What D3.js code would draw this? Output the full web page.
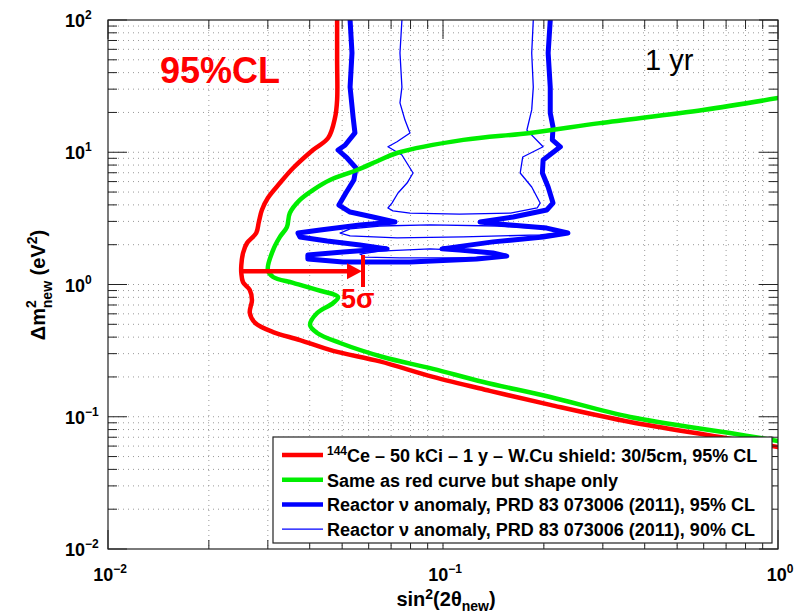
<!DOCTYPE html>
<html>
<head>
<meta charset="utf-8">
<script src="https://cdn.jsdelivr.net/npm/d3@7"></script>
<style>
  body { margin: 0; background: #fff; }
  svg { display: block; font-family: "Liberation Sans", Arial, Helvetica, sans-serif; }
  .grid line { stroke: #999; stroke-width: 1; stroke-dasharray: 1,4; }
  .tick { stroke: #222; stroke-width: 1; }
</style>
</head>
<body>
<svg id="chart" width="812" height="613"></svg>
<script>

// [sin^2(2theta), dm^2 (eV^2)]
var ceCurve = [[0.0483,100],[0.0483,49.8],[0.0483,24.9],[0.0476,18.2],[0.0454,12.8],[0.0409,10.4],[0.0357,7.60],
  [0.0326,5.85],[0.0300,4.51],[0.0288,3.66],[0.0282,2.97],[0.0277,2.45],[0.0260,2.06],[0.0253,1.73],[0.0250,1.40],
  [0.0250,1.22],[0.0253,1.04],[0.0265,0.909],[0.0269,0.763],[0.0265,0.609],[0.0275,0.512],[0.0311,0.437],
  [0.0374,0.380],[0.0470,0.315],[0.0648,0.262],[0.0934,0.200],[0.138,0.157],[0.209,0.123],[0.362,0.0913],
  [0.671,0.0703],[1.0,0.0590]];

var shapeCurve = [[1.0,25.7],[0.597,20.9],[0.294,16.6],[0.182,14.0],[0.115,12.4],[0.0729,9.87],[0.0648,8.74],
  [0.0554,7.34],[0.0460,6.17],[0.0409,5.18],[0.0374,4.36],[0.0349,3.47],[0.0342,2.72],[0.0326,2.29],[0.0311,1.82],
  [0.0300,1.29],[0.0311,1.14],[0.0357,1.03],[0.0421,0.909],[0.0486,0.804],[0.0470,0.725],[0.0421,0.609],
  [0.0401,0.494],[0.0421,0.430],[0.0493,0.361],[0.0662,0.283],[0.0934,0.230],[0.132,0.183],[0.209,0.141],
  [0.362,0.0996],[0.719,0.0753],[1.0,0.0656]];

var reactor95 = [[0.0528,100],[0.0535,56.3],[0.0528,31.1],[0.0539,18.5],[0.0546,14.0],[0.0510,11.3],[0.0486,10.4],
  [0.0517,9.05],[0.0550,7.60],[0.0542,6.17],[0.0513,4.92],[0.0489,3.99],[0.0528,3.53],[0.0618,3.24],[0.0719,2.97],
  [0.0565,2.82],[0.0430,2.58],[0.0369,2.45],[0.0374,2.29],[0.0451,2.13],[0.0565,1.99],[0.0681,1.86],[0.0503,1.76],
  [0.0395,1.67],[0.0395,1.56],[0.0503,1.48],[0.0797,1.48],[0.126,1.56],[0.155,1.64],[0.141,1.73],[0.112,1.82],
  [0.0993,1.86],[0.141,2.10],[0.199,2.29],[0.236,2.45],[0.204,2.67],[0.159,2.82],[0.129,2.97],[0.162,3.24],
  [0.204,3.66],[0.213,4.13],[0.206,5.46],[0.198,6.97],[0.199,8.74],[0.224,11.0],[0.212,12.4],[0.213,15.5],
  [0.209,19.8],[0.209,31.1],[0.206,56.3],[0.209,100]];

var reactor90 = [[0.0754,100],[0.0744,56.3],[0.0754,31.1],[0.0744,23.6],[0.0770,17.5],[0.0797,14.0],[0.0729,12.0],
  [0.0685,11.0],[0.0754,9.53],[0.0814,6.97],[0.0781,5.85],[0.0734,4.92],[0.0704,4.13],[0.0685,3.79],[0.0709,3.60],
  [0.0797,3.47],[0.112,3.41],[0.159,3.47],[0.191,3.79],[0.195,4.13],[0.184,5.46],[0.170,6.97],[0.173,9.21],
  [0.199,11.0],[0.178,14.7],[0.184,20.9],[0.186,31.1],[0.184,56.3],[0.186,100]];

var reactor90IslandA = [[0.0493,2.45],[0.0528,2.63],[0.0648,2.77],[0.0915,2.82],[0.145,2.77],[0.204,2.63],
  [0.228,2.49],[0.195,2.37],[0.115,2.29],[0.0729,2.25],[0.0528,2.33],[0.0493,2.45]];

var reactor90IslandB = [[0.0565,1.70],[0.0648,1.79],[0.0915,1.86],[0.129,1.79],[0.145,1.64],[0.120,1.59],
  [0.0744,1.59],[0.0585,1.61],[0.0565,1.70]];

var sigmaArrow = [[0.0250,1.26],[0.0577,1.26]];
var sigmaBar = [[0.0577,1.67],[0.0577,0.957]];

var xLabelExps = [-2, -1, 0];
var yLabelExps = [-2, -1, 0, 1, 2];

var legendLabels = [
  {sup: "144", text: "Ce \u2013 50 kCi \u2013 1 y \u2013 W.Cu shield: 30/5cm, 95% CL", color: "#ff0000", width: 4.5},
  {sup: "", text: "Same as red curve but shape only", color: "#00ee00", width: 4.5},
  {sup: "", text: "Reactor \u03bd anomaly, PRD 83 073006 (2011), 95% CL", color: "#0000ff", width: 4.5},
  {sup: "", text: "Reactor \u03bd anomaly, PRD 83 073006 (2011), 90% CL", color: "#0000ff", width: 1.3}
];

var frameL = 108, frameR = 778, frameT = 20, frameB = 549;

var svg = d3.select("#chart");
var x = d3.scaleLog().domain([0.01, 1]).range([frameL, frameR]);
var y = d3.scaleLog().domain([0.01, 100]).range([frameB, frameT]);

function isMajor(t) {
  var l = Math.log10(t);
  return Math.abs(l - Math.round(l)) < 1e-6;
}

// grid
var grid = svg.append("g").attr("class", "grid");
grid.selectAll(".vg")
  .data(x.ticks().filter(function(t){ return t > 0.01 && t < 1; }))
  .enter().append("line")
  .attr("x1", function(d){ return x(d); }).attr("x2", function(d){ return x(d); })
  .attr("y1", frameT).attr("y2", frameB);
grid.selectAll(".hg")
  .data(y.ticks().filter(function(t){ return t > 0.01 && t < 100; }))
  .enter().append("line")
  .attr("y1", function(d){ return y(d); }).attr("y2", function(d){ return y(d); })
  .attr("x1", frameL).attr("x2", frameR);

// curves
svg.append("clipPath").attr("id", "frameClip")
  .append("rect").attr("x", frameL).attr("y", frameT).attr("width", frameR - frameL).attr("height", frameB - frameT);

var plot = svg.append("g").attr("clip-path", "url(#frameClip)");
var smooth = d3.line().x(function(d){ return x(d[0]); }).y(function(d){ return y(d[1]); })
  .curve(d3.curveCatmullRom.alpha(0.5));
var straight = d3.line().x(function(d){ return x(d[0]); }).y(function(d){ return y(d[1]); });

function drawCurve(data, gen, color, width) {
  plot.append("path")
    .attr("d", gen(data))
    .attr("fill", "none")
    .attr("stroke", color)
    .attr("stroke-width", width)
    .attr("stroke-linejoin", "round")
    .attr("stroke-linecap", "round");
}

drawCurve(reactor90, straight, "#0000ff", 1.3);
drawCurve(reactor90IslandA, straight, "#0000ff", 1.3);
drawCurve(reactor90IslandB, straight, "#0000ff", 1.3);
drawCurve(reactor95, straight, "#0000ff", 5);
drawCurve(shapeCurve, smooth, "#00ee00", 4.5);
drawCurve(ceCurve, smooth, "#ff0000", 4.5);

// 5 sigma arrow
var ax0 = x(sigmaArrow[0][0]), ax1 = x(sigmaArrow[1][0]), ay = y(sigmaArrow[0][1]);
svg.append("line").attr("x1", ax0).attr("x2", ax1 - 14).attr("y1", ay).attr("y2", ay)
  .attr("stroke", "#ff0000").attr("stroke-width", 4.5);
svg.append("path")
  .attr("d", "M" + (ax1 - 1) + "," + ay + "L" + (ax1 - 16) + "," + (ay - 8) + "L" + (ax1 - 16) + "," + (ay + 8) + "Z")
  .attr("fill", "#ff0000");
svg.append("line")
  .attr("x1", x(sigmaBar[0][0])).attr("x2", x(sigmaBar[1][0]))
  .attr("y1", y(sigmaBar[0][1])).attr("y2", y(sigmaBar[1][1]))
  .attr("stroke", "#ff0000").attr("stroke-width", 4);
svg.append("text")
  .attr("x", x(sigmaBar[0][0]) - 22).attr("y", y(sigmaBar[1][1]) + 21)
  .attr("font-size", 27).attr("font-weight", "bold").attr("fill", "#ff0000")
  .text("5\u03c3");

// frame and ticks
svg.append("rect").attr("x", frameL).attr("y", frameT).attr("width", frameR - frameL).attr("height", frameB - frameT)
  .attr("fill", "none").attr("stroke", "#222").attr("stroke-width", 1.2);

var ticks = svg.append("g");
x.ticks().forEach(function(t){
  var len = isMajor(t) ? 19 : 9;
  ticks.append("line").attr("class", "tick").attr("x1", x(t)).attr("x2", x(t)).attr("y1", frameB).attr("y2", frameB - len);
  ticks.append("line").attr("class", "tick").attr("x1", x(t)).attr("x2", x(t)).attr("y1", frameT).attr("y2", frameT + len);
});
y.ticks().forEach(function(t){
  var len = isMajor(t) ? 19 : 9;
  ticks.append("line").attr("class", "tick").attr("y1", y(t)).attr("y2", y(t)).attr("x1", frameL).attr("x2", frameL + len);
  ticks.append("line").attr("class", "tick").attr("y1", y(t)).attr("y2", y(t)).attr("x1", frameR).attr("x2", frameR - len);
});

// tick labels
function powerLabel(px, py, exp, anchor) {
  var t = svg.append("text")
    .attr("x", px).attr("y", py)
    .attr("text-anchor", anchor)
    .attr("font-size", 18).attr("font-weight", "bold").attr("fill", "#000");
  t.append("tspan").text("10");
  t.append("tspan").attr("dy", -8).attr("font-size", 12)
    .text(exp < 0 ? "\u2212" + (-exp) : String(exp));
}
xLabelExps.forEach(function(e){ powerLabel(x(Math.pow(10, e)) + 2, 581, e, "middle"); });
yLabelExps.forEach(function(e){ powerLabel(65, y(Math.pow(10, e)) + 7, e, "start"); });

// axis titles
var xt = svg.append("text").attr("x", 446).attr("y", 606).attr("text-anchor", "middle")
  .attr("font-size", 20).attr("font-weight", "bold");
xt.append("tspan").text("sin");
xt.append("tspan").attr("dy", -7).attr("font-size", 14).text("2");
xt.append("tspan").attr("dy", 7).text("(2\u03b8");
xt.append("tspan").attr("dy", 5).attr("font-size", 14).text("new");
xt.append("tspan").attr("dy", -5).text(")");

var yt = svg.append("text").attr("transform", "translate(45,285) rotate(-90)")
  .attr("text-anchor", "middle").attr("font-size", 20).attr("font-weight", "bold");
yt.append("tspan").text("\u0394m");
yt.append("tspan").attr("dy", -9).attr("font-size", 14).text("2");
yt.append("tspan").attr("dy", 16).attr("dx", -8).attr("font-size", 14).text("new");
yt.append("tspan").attr("dy", -7).text(" (eV");
yt.append("tspan").attr("dy", -8).attr("font-size", 14).text("2");
yt.append("tspan").attr("dy", 8).text(")");

// annotations
svg.append("text").attr("x", 160).attr("y", 83)
  .attr("font-size", 36).attr("font-weight", "bold").attr("fill", "#ff0000").text("95%CL");
svg.append("text").attr("x", 645).attr("y", 70)
  .attr("font-size", 29).attr("fill", "#000").text("1 yr");

// legend
var legend = svg.append("g");
legend.append("rect").attr("x", 273).attr("y", 437).attr("width", 499).attr("height", 106)
  .attr("fill", "#fff").attr("stroke", "#222").attr("stroke-width", 1.2);

var rows = legend.selectAll(".entry").data(legendLabels).enter().append("g")
  .attr("class", "entry")
  .attr("transform", function(d, i){ return "translate(0," + (455 + i * 24.7) + ")"; });
rows.append("line").attr("x1", 282).attr("x2", 323).attr("y1", 0).attr("y2", 0)
  .attr("stroke", function(d){ return d.color; })
  .attr("stroke-width", function(d){ return d.width; });
rows.each(function(d){
  var t = d3.select(this).append("text").attr("x", 327).attr("y", 7)
    .attr("font-size", 18).attr("font-weight", "bold").attr("fill", "#000");
  if (d.sup) {
    t.append("tspan").attr("dy", -7).attr("font-size", 12).text(d.sup);
    t.append("tspan").attr("dy", 7).text(d.text);
  } else {
    t.text(d.text);
  }
});

</script>
</body>
</html>
